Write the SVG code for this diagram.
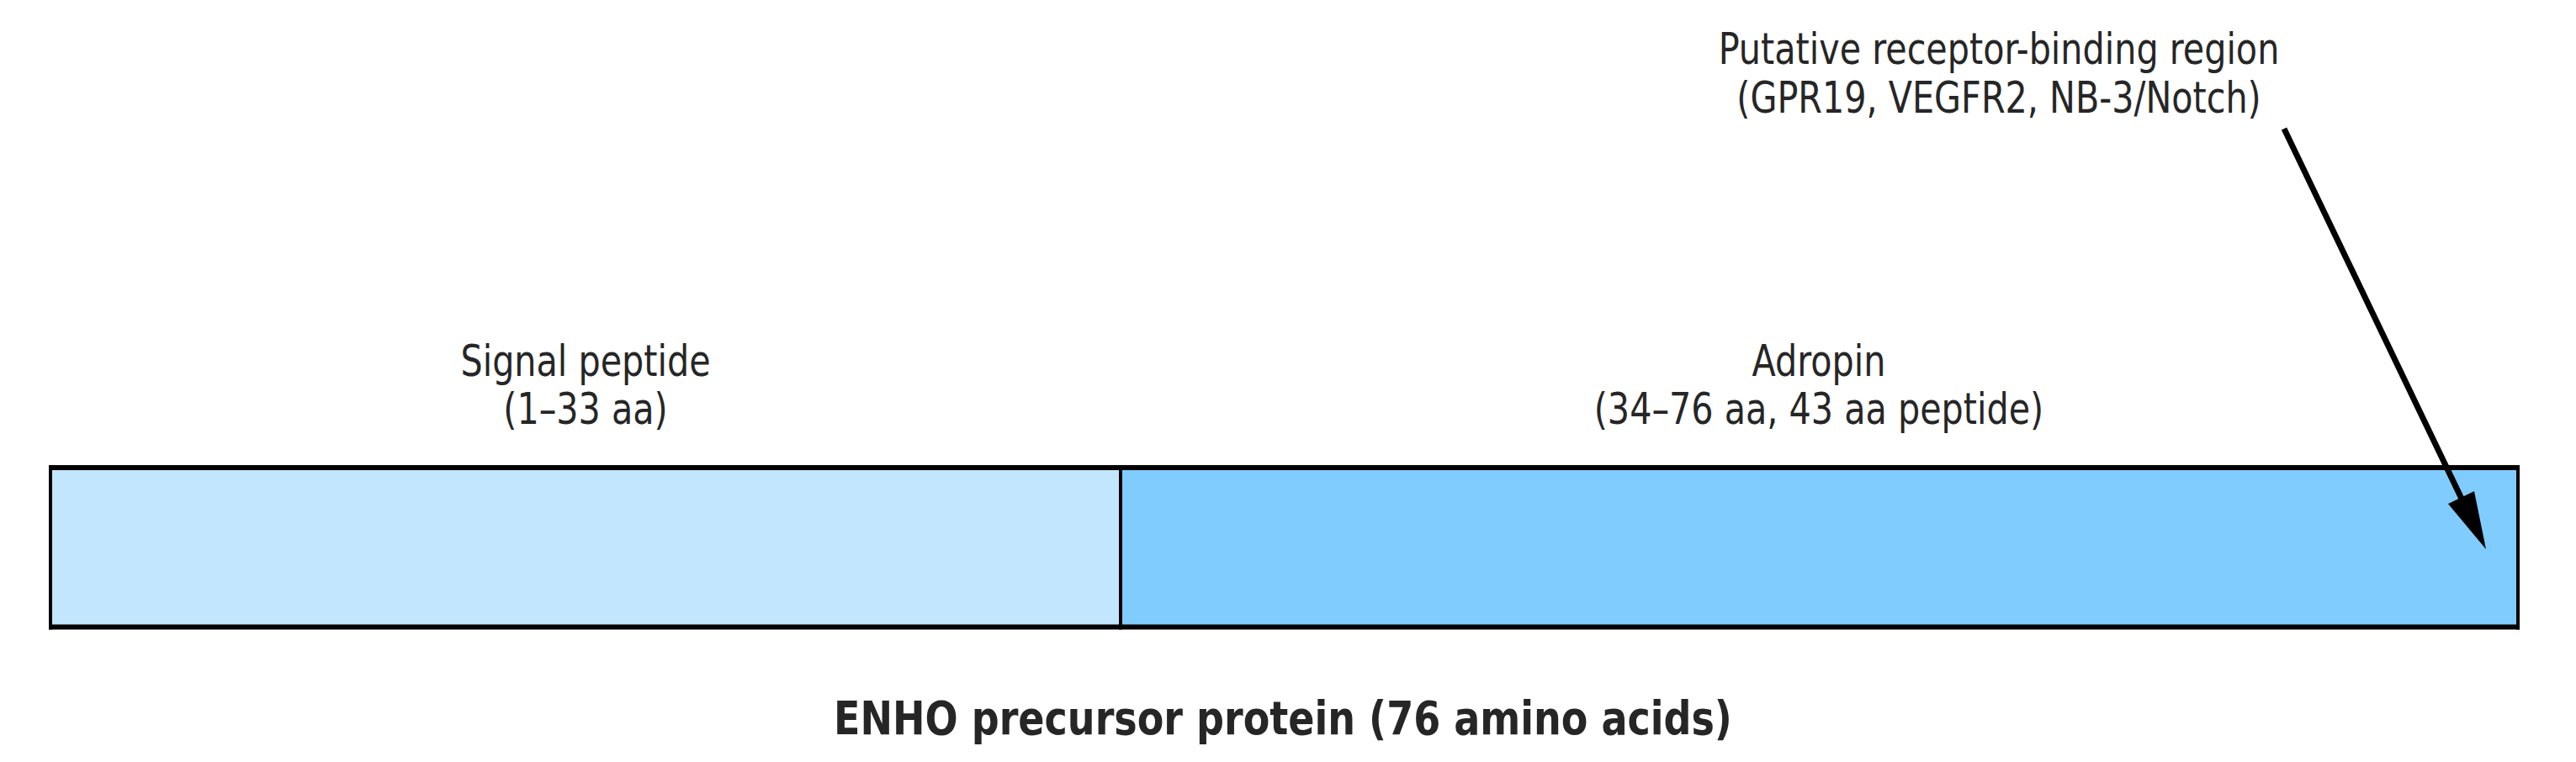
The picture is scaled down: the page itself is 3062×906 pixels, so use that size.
<svg xmlns="http://www.w3.org/2000/svg" width="3062" height="906" viewBox="0 0 3062 906">
<style>
.lbl{font-family:"DejaVu Sans",sans-serif;font-size:51px;fill:#262626;text-anchor:middle}
.ttl{font-family:"DejaVu Sans",sans-serif;font-size:56px;font-weight:bold;fill:#262626;text-anchor:middle}
.h{stroke:#000;stroke-width:6;fill:none}
.v{stroke:#000;stroke-width:4;fill:none}
</style>
<rect width="3062" height="906" fill="#fff"/>
<g id="signal-peptide">
<rect x="60" y="556" width="1272" height="190" fill="#c2e6fd"/>
<text class="lbl" transform="translate(696,446.5) scale(0.81,1)">Signal peptide</text>
<text class="lbl" transform="translate(696,504) scale(0.81,1)">(1–33 aa)</text>
</g>
<g id="adropin">
<rect x="1332" y="556" width="1661" height="190" fill="#80ccfe"/>
<text class="lbl" transform="translate(2162,446.5) scale(0.81,1)">Adropin</text>
<text class="lbl" transform="translate(2162,504) scale(0.81,1)">(34–76 aa, 43 aa peptide)</text>
</g>
<g id="bar-outline">
<line class="h" x1="58" y1="556" x2="2995" y2="556"/>
<line class="h" x1="58" y1="745.5" x2="2995" y2="745.5"/>
<line class="v" x1="60" y1="553" x2="60" y2="748.5"/>
<line class="v" x1="1332" y1="553" x2="1332" y2="748.5"/>
<line class="v" x1="2993" y1="553" x2="2993" y2="748.5"/>
</g>
<g id="binding-region-label">
<text class="lbl" transform="translate(2376,75.5) scale(0.81,1)">Putative receptor-binding region</text>
<text class="lbl" transform="translate(2376,134) scale(0.81,1)">(GPR19, VEGFR2, NB-3/Notch)</text>
</g>
<g id="title">
<text class="ttl" transform="translate(1525,873) scale(0.822,1)">ENHO precursor protein (76 amino acids)</text>
</g>
<g id="connectors">
<line x1="2715" y1="153" x2="2927" y2="595" stroke="#000" stroke-width="7"/>
<polygon points="2955,653 2910,599 2941,584" fill="#000"/>
</g>
</svg>
